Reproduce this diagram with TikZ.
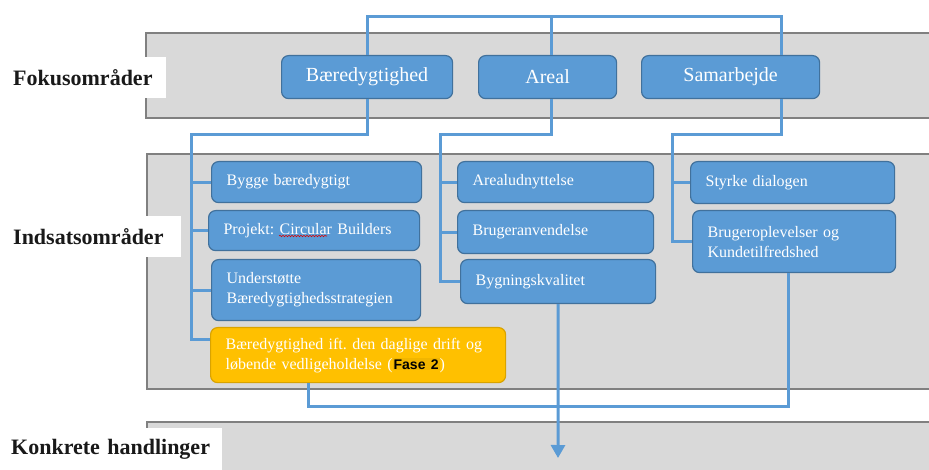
\documentclass[tikz,border=0pt]{standalone}
\usepackage{fontspec}
\setmainfont{Liberation Serif}
\newfontfamily\fasefont{Liberation Sans}
\usetikzlibrary{arrows.meta,calc,decorations.pathmorphing}
\definecolor{bl}{HTML}{5B9BD5}
\definecolor{bld}{HTML}{41719C}
\definecolor{yl}{HTML}{FFC000}
\definecolor{yld}{HTML}{D9A300}
\definecolor{fhl}{HTML}{F2B600}
\definecolor{bandc}{HTML}{D9D9D9}
\definecolor{bandl}{HTML}{808080}
\frenchspacing
\begin{document}
\begin{tikzpicture}[x=1pt,y=-1pt,
  band/.style={draw=bandl, line width=1.5, fill=bandc},
  lbl/.style={fill=white, anchor=north west, inner xsep=8, inner ysep=0, align=left,
     font=\fontsize{22}{26}\selectfont\bfseries, text=black!90},
  focus/.style={draw=bld, line width=1.2, fill=bl, rounded corners=7, text=white,
     anchor=north west, inner sep=0, font=\fontsize{20}{24}\selectfont},
  box/.style={draw=bld, line width=1.2, fill=bl, rounded corners=7, text=white,
     anchor=north west, inner xsep=15, inner ysep=0, align=left,
     font=\fontsize{16}{20}\selectfont},
  ybox/.style={box, draw=yld, fill=yl},
  conn/.style={draw=bl, line width=3}]
\useasboundingbox (0,0) rectangle (929,470);
% bands
\fill[bandc] (932,33) -- (146,33) -- (146,118) -- (932,118) -- cycle;
\draw[bandl, line width=1.5] (932,33) -- (146,33) -- (146,118) -- (932,118);
\fill[bandc] (932,154) -- (147,154) -- (147,389) -- (932,389) -- cycle;
\draw[bandl, line width=1.5] (932,154) -- (147,154) -- (147,389) -- (932,389);
\fill[bandc] (932,422) -- (147,422) -- (147,472) -- (932,472) -- cycle;
\draw[bandl, line width=1.5] (932,422) -- (147,422) -- (147,472);
% labels
\node[lbl, minimum height=41, text width=145] (lf) at (5,57) {Fokusområder};
\node[lbl, minimum height=41, text width=160] (li) at (5,216) {Indsatsområder};
\node[lbl, minimum height=42, text width=203] (lk) at (3,428) {Konkrete handlinger};
% focus nodes
\node[focus, minimum width=171, minimum height=43] (bae) at (281,55) {Bæredygtighed};
\node[focus, minimum width=138, minimum height=43] (are) at (478,55) {Areal};
\node[focus, minimum width=178, minimum height=43] (sam) at (641,55) {Samarbejde};
% column 1
\node[box, minimum height=41, text width=180] (byg) at (211,161) {Bygge bæredygtigt};
\node[box, minimum height=40, text width=181] (pro) at (208,210) {Projekt: Circular Builders};
\node[box, minimum height=61, text width=179] (und) at (211,259) {Understøtte\\Bæredygtighedsstrategien};
\node[ybox, minimum height=55, text width=265] (yel) at (210,327)
  {Bæredygtighed ift. den daglige drift og\\løbende vedligeholdelse ({\setlength{\fboxsep}{1pt}\colorbox{fhl}{\textcolor{black}{\fasefont\bfseries\fontsize{14}{16}\selectfont Fase 2}}})};
% column 2
\node[box, minimum height=41, text width=166] (arl) at (457,161) {Arealudnyttelse};
\node[box, minimum height=43, text width=166] (bra) at (457,210) {Brugeranvendelse};
\node[box, minimum height=44, text width=165] (bkv) at (460,259) {Bygningskvalitet};
% column 3
\node[box, minimum height=42, text width=174] (sty) at (690,161) {Styrke dialogen};
\node[box, minimum height=62, text width=173] (bru) at (692,210) {Brugeroplevelser og\\Kundetilfredshed};
% spell-check squiggle
\draw[red!85!black, line width=0.6, decorate, decoration={snake, amplitude=0.7, segment length=3}] (279,236) -- (327,236);
% connectors
\coordinate (t1) at (781,17);
\coordinate (an) at ([xshift=4]are.north);
\coordinate (as) at ([xshift=4]are.south);
\draw[conn] (bae.north) |- (t1) -- (t1 |- sam.north);
\draw[conn] (an) -- (an |- t1);
% Baeredygtighed branch
\coordinate (b1) at (191,135);
\coordinate (b1e) at (191,339);
\draw[conn] (bae.south) |- (b1) -- (b1e) -- (b1e -| yel.west);
\draw[conn] (b1 |- byg.west) -- (byg.west);
\draw[conn] (b1 |- pro.west) -- (pro.west);
\draw[conn] (b1 |- und.west) -- (und.west);
% Areal branch
\coordinate (a1) at (440,135);
\draw[conn] (as) |- (a1) |- (bkv.west);
\draw[conn] (a1 |- arl.west) -- (arl.west);
\draw[conn] (a1 |- bra.west) -- (bra.west);
% Samarbejde branch
\coordinate (s1) at (672,135);
\draw[conn] (t1 |- sam.south) |- (s1) |- (bru.west);
\draw[conn] (s1 |- sty.west) -- (sty.west);
% bottom connectors
\coordinate (y1) at (308,406);
\coordinate (bs) at (788,0);
\draw[conn] (y1 |- yel.south) -- (y1) -| (bs |- bru.south);
\coordinate (ae) at (558,458);
\draw[conn, -{Triangle[width=14,length=13]}] (bkv.south) -- (ae);
\end{tikzpicture}
\end{document}
